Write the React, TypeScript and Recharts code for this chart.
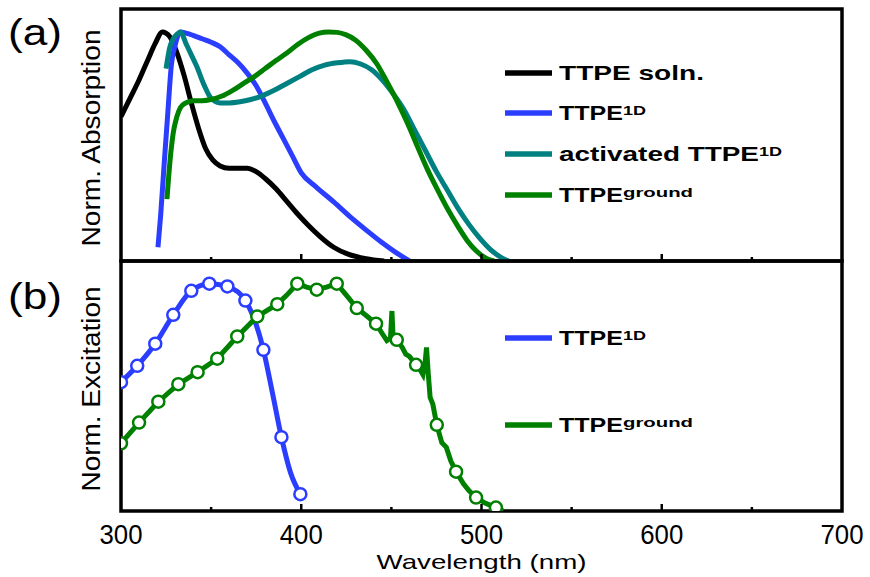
import React from "react";
import {
  ComposedChart,
  Line,
  Scatter,
  XAxis,
  YAxis,
  ReferenceArea,
} from "recharts";

// ---- panel (a): normalized absorption ----
const SOLN_WL = [300, 305, 310, 315, 319, 323, 327, 331, 335, 339, 343, 347, 351, 355, 360, 365, 370, 375, 380, 386, 392, 398, 404, 410, 418, 426, 436, 446];
const SOLN_ABS = [0.63, 0.71, 0.79, 0.88, 0.95, 1.0, 0.98, 0.91, 0.81, 0.69, 0.58, 0.49, 0.44, 0.415, 0.405, 0.405, 0.405, 0.39, 0.36, 0.315, 0.26, 0.205, 0.155, 0.11, 0.06, 0.03, 0.01, 0.0];

const ONED_WL = [320.5, 322, 324, 326, 328, 330, 333, 336, 340, 345, 350, 355, 360, 365, 370, 375, 380, 385, 390, 395, 400, 408, 418, 428, 436, 444, 452, 460];
const ONED_ABS = [0.06, 0.2, 0.43, 0.65, 0.86, 0.94, 1.0, 0.995, 0.985, 0.97, 0.955, 0.935, 0.9, 0.865, 0.82, 0.765, 0.69, 0.61, 0.535, 0.46, 0.385, 0.325, 0.258, 0.187, 0.135, 0.085, 0.04, 0.0];

const ACT_WL = [325, 327, 329, 331, 333, 336, 339, 342, 346, 350, 355, 360, 366, 372, 378, 385, 392, 399, 406, 413, 420, 427, 433, 439, 445, 451, 457, 463, 469, 475, 481, 487, 493, 499, 505, 511, 515];
const ACT_ABS = [0.84, 0.93, 0.97, 0.99, 1.0, 0.95, 0.9, 0.85, 0.77, 0.71, 0.69, 0.69, 0.695, 0.705, 0.72, 0.745, 0.775, 0.805, 0.835, 0.855, 0.865, 0.87, 0.86, 0.835, 0.79, 0.73, 0.66, 0.57, 0.48, 0.39, 0.31, 0.23, 0.16, 0.1, 0.05, 0.015, 0.0];

const GROUND_WL = [325.5, 327, 329, 331, 333, 336, 340, 345, 350, 356, 362, 368, 374, 380, 386, 392, 398, 404, 410, 415, 420, 425, 430, 436, 442, 447, 453, 459, 465, 470, 475, 481, 487, 492, 497, 503, 507];
const GROUND_ABS = [0.27, 0.42, 0.56, 0.63, 0.67, 0.69, 0.7, 0.7, 0.705, 0.72, 0.745, 0.775, 0.805, 0.84, 0.875, 0.908, 0.945, 0.975, 0.995, 1.0, 0.998, 0.987, 0.965, 0.92, 0.86, 0.79, 0.7, 0.6, 0.49, 0.4, 0.32, 0.23, 0.15, 0.09, 0.045, 0.01, 0.0];

// ---- panel (b): normalized excitation ----
const EX1D_WL = [300, 309, 319, 329, 339, 349, 359, 369, 379, 384, 389, 394, 399.5];
const EX1D_VAL = [0.567, 0.639, 0.736, 0.863, 0.969, 1.0, 0.988, 0.926, 0.709, 0.52, 0.325, 0.17, 0.074];
const EX1D_MARK_WL = [300, 309, 319, 329, 339, 349, 359, 369, 379, 389, 399.5];
const EX1D_MARK_VAL = [0.567, 0.639, 0.736, 0.863, 0.969, 1.0, 0.988, 0.926, 0.709, 0.325, 0.074];

const EXG_WL = [300, 310, 320.7, 331.8, 342.5, 353.4, 364.5, 375.6, 386.7, 392, 397.8, 403, 408.6, 414, 419.7, 425, 430.8, 436, 441.5, 445, 447.5, 449.5, 450.3, 451, 453, 456, 458, 460, 463.7, 466, 467.5, 468.8, 469.5, 470.5, 471.5, 473, 475.2, 478, 480.5, 483, 485.9, 490, 493, 497, 502, 508, 512];
const EXG_VAL = [0.298, 0.389, 0.481, 0.558, 0.611, 0.67, 0.768, 0.856, 0.91, 0.95, 1.0, 0.985, 0.974, 0.985, 1.0, 0.95, 0.893, 0.86, 0.824, 0.78, 0.75, 0.76, 0.88, 0.76, 0.753, 0.72, 0.69, 0.68, 0.643, 0.62, 0.6, 0.66, 0.72, 0.6, 0.5, 0.47, 0.379, 0.3, 0.28, 0.22, 0.173, 0.12, 0.09, 0.059, 0.035, 0.015, 0.0];
const EXG_MARK_WL = [300, 310, 320.7, 331.8, 342.5, 353.4, 364.5, 375.6, 386.7, 397.8, 408.6, 419.7, 430.8, 441.5, 453, 463.7, 475.2, 485.9, 497, 508];
const EXG_MARK_VAL = [0.298, 0.389, 0.481, 0.558, 0.611, 0.67, 0.768, 0.856, 0.91, 1.0, 0.974, 1.0, 0.893, 0.824, 0.753, 0.643, 0.379, 0.173, 0.059, 0.015];

const X_TICKS = [300, 350, 400, 450, 500, 550, 600, 650, 700];

const BLACK = "#000000";
const BLUE = "#2b3dff";
const TEAL = "#008080";
const GREEN = "#008000";
const FONT = "'Liberation Sans', Arial, Helvetica, sans-serif";

const W = 870;
const H = 577;
const LEFT = 121;
const RIGHT = 842;
const TOP = 9;
const MID = 261;
const BOTTOM = 511;
const AXIS_H = 50;

const zip = (xs: number[], ys: number[]) => xs.map((x, i) => ({ x, y: ys[i] }));

function makeTick(showLabel: boolean) {
  return (props: any) => {
    const { x, y, payload } = props;
    const v = payload.value;
    const major = v % 100 === 0;
    const edge = v === 300 || v === 700;
    return (
      <g>
        {!edge && (
          <line x1={x} x2={x} y1={y} y2={y - (major ? 7 : 4)} stroke={BLACK} strokeWidth={2.5} />
        )}
        {showLabel && major && (
          <text
            x={x}
            y={y + 33}
            textAnchor="middle"
            fontSize={27}
            fontFamily={FONT}
            fill={BLACK}
            textLength={43}
            lengthAdjust="spacingAndGlyphs"
          >
            {v}
          </text>
        )}
      </g>
    );
  };
}

function Marker(props: any) {
  const { cx, cy, fill } = props;
  return <circle cx={cx} cy={cy} r={6} fill="#fff" stroke={fill} strokeWidth={2.5} />;
}

function Txt({ x, y, size, w, bold, anchor, children }: any) {
  return (
    <text
      x={x}
      y={y}
      fontSize={size}
      fontWeight={bold ? 700 : 400}
      fontFamily={FONT}
      textAnchor={anchor || "start"}
      textLength={w}
      lengthAdjust="spacingAndGlyphs"
      fill={BLACK}
    >
      {children}
    </text>
  );
}

function LegendRow({ y, color, main, mainW, sup, supW }: any) {
  return (
    <g>
      <line x1={505} x2={552} y1={y} y2={y} stroke={color} strokeWidth={5.5} />
      <Txt x={559} y={y + 7} size={21} w={mainW} bold>
        {main}
      </Txt>
      {sup && (
        <Txt x={559 + mainW} y={y + 2} size={13} w={supW} bold>
          {sup}
        </Txt>
      )}
    </g>
  );
}

const frameStyle: React.CSSProperties = { position: "absolute", left: 0, top: 0 };

export default function App() {
  return (
    <div style={{ position: "absolute", left: 0, top: 0, width: W, height: H, background: "#fff" }}>
      {/* (a) absorption */}
      <div style={frameStyle}>
        <ComposedChart
          width={W}
          height={H}
          margin={{ top: TOP, right: W - RIGHT, bottom: H - MID - AXIS_H, left: LEFT }}
        >
          <XAxis
            type="number"
            dataKey="x"
            domain={[300, 700]}
            ticks={X_TICKS}
            interval={0}
            allowDataOverflow
            height={AXIS_H}
            tickSize={0}
            tickMargin={0}
            axisLine={false}
            tickLine={false}
            tick={makeTick(false)}
          />
          <YAxis type="number" domain={[0, 1.1]} hide allowDataOverflow />
          <ReferenceArea x1={300} x2={700} y1={0} y2={1.1} fill="none" stroke={BLACK} strokeWidth={3.5} ifOverflow="visible" />
          <Line data={zip(SOLN_WL, SOLN_ABS)} dataKey="y" type="monotone" stroke={BLACK} strokeWidth={5} dot={false} isAnimationActive={false} />
          <Line data={zip(ONED_WL, ONED_ABS)} dataKey="y" type="monotone" stroke={BLUE} strokeWidth={5} dot={false} isAnimationActive={false} />
          <Line data={zip(ACT_WL, ACT_ABS)} dataKey="y" type="monotone" stroke={TEAL} strokeWidth={5} dot={false} isAnimationActive={false} />
          <Line data={zip(GROUND_WL, GROUND_ABS)} dataKey="y" type="monotone" stroke={GREEN} strokeWidth={5} dot={false} isAnimationActive={false} />
        </ComposedChart>
      </div>

      {/* (b) excitation */}
      <div style={frameStyle}>
        <ComposedChart
          width={W}
          height={H}
          margin={{ top: MID, right: W - RIGHT, bottom: H - BOTTOM - AXIS_H, left: LEFT }}
        >
          <XAxis
            type="number"
            dataKey="x"
            domain={[300, 700]}
            ticks={X_TICKS}
            interval={0}
            allowDataOverflow
            height={AXIS_H}
            tickSize={0}
            tickMargin={0}
            axisLine={false}
            tickLine={false}
            tick={makeTick(true)}
          />
          <YAxis type="number" domain={[0, 1.1]} hide allowDataOverflow />
          <Line data={zip(EX1D_WL, EX1D_VAL)} dataKey="y" type="monotone" stroke={BLUE} strokeWidth={5} dot={false} isAnimationActive={false} />
          <Line data={zip(EXG_WL, EXG_VAL)} dataKey="y" type="linear" stroke={GREEN} strokeWidth={5} dot={false} isAnimationActive={false} />
          <Scatter data={zip(EX1D_MARK_WL, EX1D_MARK_VAL)} dataKey="y" fill={BLUE} shape={<Marker />} isAnimationActive={false} />
          <Scatter data={zip(EXG_MARK_WL, EXG_MARK_VAL)} dataKey="y" fill={GREEN} shape={<Marker />} isAnimationActive={false} />
          <ReferenceArea x1={300} x2={700} y1={0} y2={1.1} fill="none" stroke={BLACK} strokeWidth={3.5} ifOverflow="visible" />
        </ComposedChart>
      </div>

      {/* labels and legends */}
      <svg width={W} height={H} style={{ position: "absolute", left: 0, top: 0, pointerEvents: "none" }}>
        <Txt x={8} y={45} size={36} w={54}>(a)</Txt>
        <Txt x={8} y={309} size={36} w={54}>(b)</Txt>
        <g transform="translate(100,138) rotate(-90)">
          <Txt x={0} y={0} size={26} w={217} anchor="middle">Norm. Absorption</Txt>
        </g>
        <g transform="translate(100,389) rotate(-90)">
          <Txt x={0} y={0} size={26} w={205} anchor="middle">Norm. Excitation</Txt>
        </g>
        <Txt x={481.5} y={569} size={21} w={210} anchor="middle">Wavelength (nm)</Txt>

        <LegendRow y={73} color={BLACK} main="TTPE soln." mainW={145} />
        <LegendRow y={113} color={BLUE} main="TTPE" mainW={64} sup="1D" supW={23} />
        <LegendRow y={154} color={TEAL} main="activated TTPE" mainW={200} sup="1D" supW={23} />
        <LegendRow y={195} color={GREEN} main="TTPE" mainW={64} sup="ground" supW={70} />

        <LegendRow y={338} color={BLUE} main="TTPE" mainW={64} sup="1D" supW={23} />
        <LegendRow y={425} color={GREEN} main="TTPE" mainW={64} sup="ground" supW={70} />
      </svg>
    </div>
  );
}
